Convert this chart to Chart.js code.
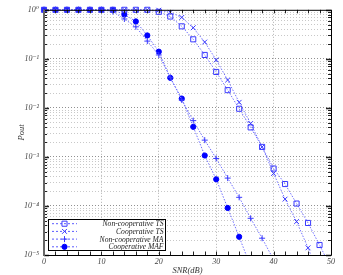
<!DOCTYPE html>
<html><head><meta charset="utf-8">
<script src="https://cdn.jsdelivr.net/npm/chart.js@4/dist/chart.umd.min.js"></script>
<style>html,body{margin:0;padding:0;background:#fff}</style>
</head><body>
<canvas id="c" width="343" height="275"></canvas>
<script>
// ---- data ----
const snr = [0,2,4,6,8,10,12,14,16,18,20,22,24,26,28,30,32,34,36,38,40,42,44,46,48,50];
const nonCoopTS = [1,1,1,1,1,1,1,1,1,1,0.91,0.73,0.46,0.25,0.12,0.054,0.023,0.0096,0.0040,0.0016,5.8e-4,2.8e-4,1.12e-4,4.5e-5,1.6e-5,5.5e-6];
const coopTS    = [1,1,1,1,1,1,1,1,1,1,0.98,0.89,0.70,0.43,0.22,0.095,0.037,0.013,0.0048,0.0016,4.6e-4,1.38e-4,4.8e-5,1.4e-5,3.5e-6,null];
const nonCoopMA = [1,1,1,1,1,1,0.92,0.65,0.45,0.23,0.12,0.042,0.0145,0.0055,0.0022,9.3e-4,3.7e-4,1.5e-4,5.6e-5,2.2e-5,8e-6,null,null,null,null,null];
const coopMAF   = [1,1,1,1,1,1,1,0.80,0.58,0.30,0.14,0.041,0.0155,0.0041,0.00107,3.5e-4,9.1e-5,2.35e-5,5.8e-6,null,null,null,null,null,null,null];
const seriesNames = ['Non-cooperative TS','Cooperative TS','Non-cooperative MA','Cooperative MAF'];
const xTickLabels = ['0','10','20','30','40','50'];
const yExponents = [0,-1,-2,-3,-4,-5];

const SUP = {'0':'\u2070','1':'\u00B9','2':'\u00B2','3':'\u00B3','4':'\u2074','5':'\u2075','6':'\u2076','7':'\u2077','8':'\u2078','9':'\u2079','-':'\u207B'};
const sup = n => String(n).split('').map(c => SUP[c]).join('');
const serif = {family:'"Liberation Serif","DejaVu Serif",serif', style:'italic', size:8};

function mk(label, data, style, r, fill, col){
  return {label, data: snr.map((x,i)=> ({x, y: data[i]})),
    borderColor:'#7070ff', borderWidth:1, borderDash:[1.5,1.5], fill:false, tension:0,
    pointStyle:style, pointRadius:r, pointHoverRadius:r, pointBorderColor:col, pointBackgroundColor:fill, pointBorderWidth:1,
    spanGaps:false, clip:{left:6, top:6, right:0, bottom:0}};
}
const datasets = [
  mk(seriesNames[0], nonCoopTS, 'rect', 3.6, 'rgba(255,255,255,0)', '#3a3aff'),
  mk(seriesNames[1], coopTS, 'crossRot', 3.4, '#3a3aff', '#3a3aff'),
  mk(seriesNames[2], nonCoopMA, 'cross', 3, '#3a3aff', '#3a3aff'),
  mk(seriesNames[3], coopMAF, 'circle', 2.6, '#0000ff', '#0000ff'),
];

function drawMarker(ctx, style, r, x, y, fill, col){
  if (Chart.helpers && Chart.helpers.drawPoint) {
    ctx.save(); ctx.fillStyle = fill; ctx.strokeStyle = col; ctx.lineWidth = 1; ctx.setLineDash([]);
    Chart.helpers.drawPoint(ctx, {pointStyle: style, radius: r, rotation: 0, borderWidth: 1}, x, y);
    ctx.restore();
  }
}

const framePlugin = {
  id:'frame',
  afterDraw(chart){
    const {ctx, chartArea:a, scales:{x, y}} = chart;
    ctx.save();
    ctx.setLineDash([]);
    ctx.strokeStyle = '#222'; ctx.lineWidth = 1;
    for (let v = 0; v <= 50; v += 2) {
      const px = Math.round(x.getPixelForValue(v)) + 0.5;
      ctx.beginPath(); ctx.moveTo(px, a.bottom); ctx.lineTo(px, a.bottom - 3.5);
      ctx.moveTo(px, a.top); ctx.lineTo(px, a.top + 3.5); ctx.stroke();
    }
    yExponents.forEach(e => {
      for (let m = 1; m <= 9; m++) {
        const v = m * Math.pow(10, e);
        if (v > 1 || v < 1e-5) continue;
        const py = Math.round(y.getPixelForValue(v)) + 0.5;
        const len = m === 1 ? 5 : 3;
        ctx.lineWidth = m === 1 ? 1.5 : 1;
        ctx.beginPath(); ctx.moveTo(a.left, py); ctx.lineTo(a.left + len, py);
        ctx.moveTo(a.right, py); ctx.lineTo(a.right - len, py); ctx.stroke();
      }
    });
    ctx.lineWidth = 1; ctx.strokeStyle = '#000';
    ctx.beginPath();
    ctx.moveTo(a.left, a.top + 0.5); ctx.lineTo(a.right + 0.5, a.top + 0.5);
    ctx.lineTo(a.right + 0.5, a.bottom + 0.5); ctx.lineTo(a.left, a.bottom + 0.5);
    ctx.stroke();
    ctx.lineWidth = 2; ctx.strokeStyle = '#666';
    ctx.beginPath(); ctx.moveTo(a.left, a.top); ctx.lineTo(a.left, a.bottom + 1); ctx.stroke();

    const lx = 48.5, ly = 219.5, lw = 117, lh = 31;
    ctx.fillStyle = '#fff'; ctx.fillRect(lx, ly, lw, lh);
    ctx.strokeStyle = '#000'; ctx.lineWidth = 1; ctx.strokeRect(lx, ly, lw, lh);
    chart.data.datasets.forEach((ds, i) => {
      const cy = 223.7 + i * 7.7;
      ctx.strokeStyle = '#5a5aff'; ctx.lineWidth = 1; ctx.setLineDash([2,2]);
      ctx.beginPath(); ctx.moveTo(52, cy); ctx.lineTo(77, cy); ctx.stroke();
      ctx.setLineDash([]);
      drawMarker(ctx, ds.pointStyle, ds.pointRadius, 64.5, cy, ds.pointBackgroundColor, ds.pointBorderColor);
      ctx.fillStyle = '#222'; ctx.font = 'italic 7.6px "Liberation Serif", serif';
      ctx.textAlign = 'right'; ctx.textBaseline = 'middle';
      ctx.fillText(ds.label, 163.5, cy + 0.5);
    });
    ctx.restore();
  }
};

new Chart(document.getElementById('c'), {
  type:'line',
  data:{datasets},
  options:{
    responsive:false, animation:false, devicePixelRatio:1,
    layout:{padding:{left:0, right:12, top:9, bottom:0}},
    plugins:{legend:{display:false}, tooltip:{enabled:false}},
    scales:{
      x:{type:'linear', min:0, max:50,
        afterBuildTicks: s => { s.ticks = xTickLabels.map(t => ({value: Number(t)})); },
        afterFit: s => { s.height = 20; },
        ticks:{padding:2, color:'#444', font:serif, maxRotation:0, autoSkip:false, callback: v => String(v)},
        grid:{drawTicks:false, color: c => (c.tick && (c.tick.value === 0 || c.tick.value === 50)) ? 'rgba(0,0,0,0)' : '#b0b0b0', lineWidth:1},
        border:{display:false, dash:[1,2]},
        title:{display:true, text:'SNR(dB)', color:'#333', font:{family:serif.family, style:'italic', size:8.5}, padding:{top:0, bottom:-1}}
      },
      y:{type:'logarithmic', min:1e-5, max:1,
        afterBuildTicks: s => {
          const t = [];
          for (let e = -5; e <= 0; e++) for (let m = 1; m <= 9; m++) {
            const v = m * Math.pow(10, e);
            if (v <= 1.0000001) t.push({value: v, major: m === 1});
          }
          s.ticks = t;
        },
        afterFit: s => { s.width = 44; },
        ticks:{padding:5, color:'#444', font:serif, autoSkip:false,
          callback: (v) => { const e = Math.log10(v); const r = Math.round(e); return Math.abs(e - r) < 1e-6 ? '10' + sup(r) : ''; }},
        grid:{drawTicks:false, lineWidth:1, color: c => {
          const v = c.tick ? c.tick.value : 0; const e = Math.log10(v);
          if (v >= 0.99 || v <= 1.01e-5) return 'rgba(0,0,0,0)';
          return Math.abs(e - Math.round(e)) < 1e-6 ? '#909090' : '#c8c8c8'; }},
        border:{display:false, dash:[1,2]},
        title:{display:true, text:'Pout', color:'#333', font:{family:serif.family, style:'italic', size:8.5}, padding:{top:17, bottom:0}}
      }
    }
  },
  plugins:[framePlugin]
});
</script>
</body></html>
